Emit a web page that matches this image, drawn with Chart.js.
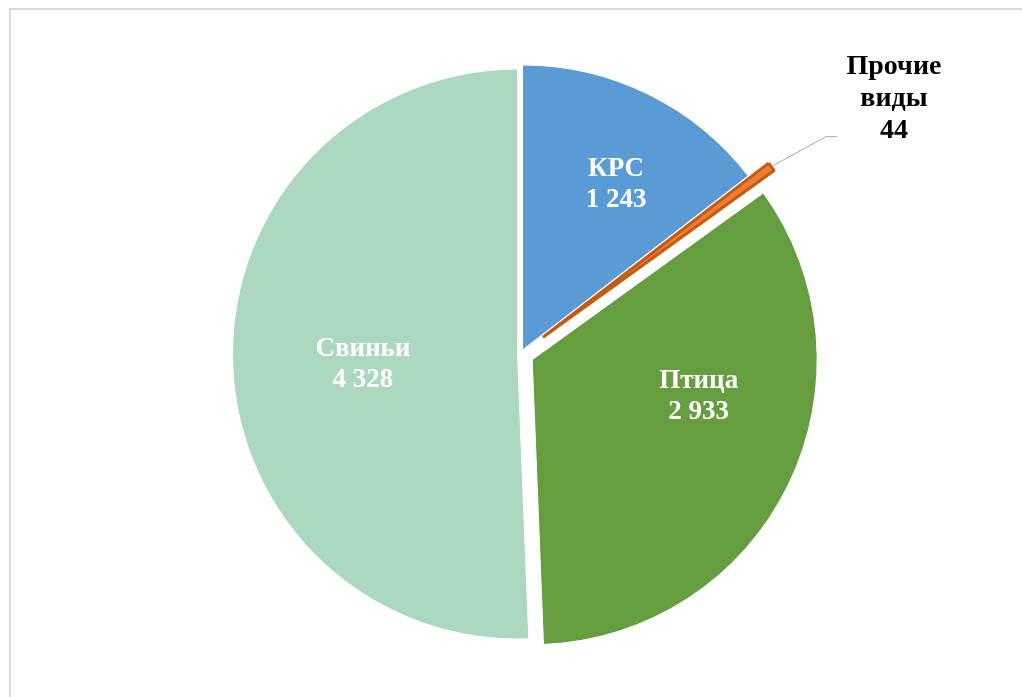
<!DOCTYPE html>
<html lang="ru">
<head>
<meta charset="utf-8">
<script src="https://cdn.jsdelivr.net/npm/chart.js@4.4.1/dist/chart.umd.min.js"></script>
<style>
  html, body { margin: 0; padding: 0; background: #fff; overflow: hidden; }
  #frame { position: absolute; left: 9px; top: 8px; width: 1100px; height: 800px; border: 2px solid #d9d9d9; }
  #wrap { position: absolute; left: 0; top: 0; width: 1022px; height: 697px; }
</style>
</head>
<body>
<div id="frame"></div>
<div id="wrap"><canvas id="pieChart"></canvas></div>
<script>
// ---------- DATA ----------
const categories = ["КРС", "Прочие виды", "Птица", "Свиньи"];
const values = [1243, 44, 2933, 4328];

// ---------- STYLE ----------
const sliceColors = ["#5B9BD5", "#ED7D31", "#669D3E", "#ABD8BE"];
const sliceBorders = ["#ffffff", "#C55A11", "#ffffff", "#ffffff"];
const sliceBorderWidths = [1, 3, 1, 1];
const explodePx = [4.5, 28, 13, 3];          // how far each slice is pulled out
// label spot inside slice: [fraction of slice angle, fraction of radius]
const labelSpots = [[0.555, 0.676], null, [0.382, 0.596], [0.492, 0.543]];
const pieRadius = 285;
const innerFont = "bold 27px 'Liberation Serif', 'Times New Roman', serif";
const outerFont = "bold 28px 'Liberation Serif', 'Times New Roman', serif";
const lineStep = 31;

function fmt(v) {
  return String(v).replace(/\B(?=(\d{3})+(?!\d))/g, " ");
}

// pull slices out along their middle angle (no radius / angle change)
const explode = {
  id: "explode",
  beforeDatasetsDraw(chart) {
    const ca = chart.chartArea;
    const cx = (ca.left + ca.right) / 2;
    const cy = (ca.top + ca.bottom) / 2;
    chart.getDatasetMeta(0).data.forEach((arc, i) => {
      const mid = (arc.startAngle + arc.endAngle) / 2;
      arc.x = cx + Math.cos(mid) * explodePx[i];
      arc.y = cy + Math.sin(mid) * explodePx[i];
    });
  }
};

const sliceLabels = {
  id: "sliceLabels",
  afterDatasetsDraw(chart) {
    const ctx = chart.ctx;
    const meta = chart.getDatasetMeta(0);
    ctx.save();
    ctx.textAlign = "center";
    ctx.textBaseline = "alphabetic";
    meta.data.forEach((arc, i) => {
      const { x, y, startAngle, endAngle, outerRadius } = arc;
      const mid = (startAngle + endAngle) / 2;
      const lines = categories[i].split(" ").concat([fmt(values[i])]);

      if (labelSpots[i]) {
        const a = startAngle + labelSpots[i][0] * (endAngle - startAngle);
        const lx = x + Math.cos(a) * labelSpots[i][1] * outerRadius;
        const ly = y + Math.sin(a) * labelSpots[i][1] * outerRadius;
        ctx.font = innerFont;
        ctx.fillStyle = "#ffffff";
        lines.forEach((t, k) => {
          ctx.fillText(t, lx, ly + (k - (lines.length - 1) / 2) * lineStep + 10);
        });
      } else {
        // outside label with leader line
        const tx = x + Math.cos(mid) * (outerRadius + 2);
        const ty = y + Math.sin(mid) * (outerRadius + 2);
        const ex = tx + 53, ey = ty - 29;
        ctx.strokeStyle = "#A6A6A6";
        ctx.lineWidth = 1;
        ctx.beginPath();
        ctx.moveTo(tx, ty);
        ctx.lineTo(ex, ey);
        ctx.lineTo(ex + 11, ey);
        ctx.stroke();
        ctx.font = outerFont;
        ctx.fillStyle = "#000000";
        const lx = ex + 68;
        lines.forEach((t, k) => {
          ctx.fillText(t, lx, ey - 63 + k * 32);
        });
      }
    });
    ctx.restore();
  }
};

new Chart(document.getElementById("pieChart"), {
  type: "pie",
  data: {
    labels: categories,
    datasets: [{
      data: values,
      backgroundColor: sliceColors,
      borderColor: sliceBorders,
      borderWidth: sliceBorderWidths,
      radius: pieRadius
    }]
  },
  options: {
    responsive: true,
    maintainAspectRatio: false,
    animation: false,
    events: [],
    layout: { padding: { left: 19, top: 11, right: 0, bottom: 0 } },
    plugins: {
      legend: { display: false },
      tooltip: { enabled: false }
    }
  },
  plugins: [explode, sliceLabels]
});
</script>
</body>
</html>
